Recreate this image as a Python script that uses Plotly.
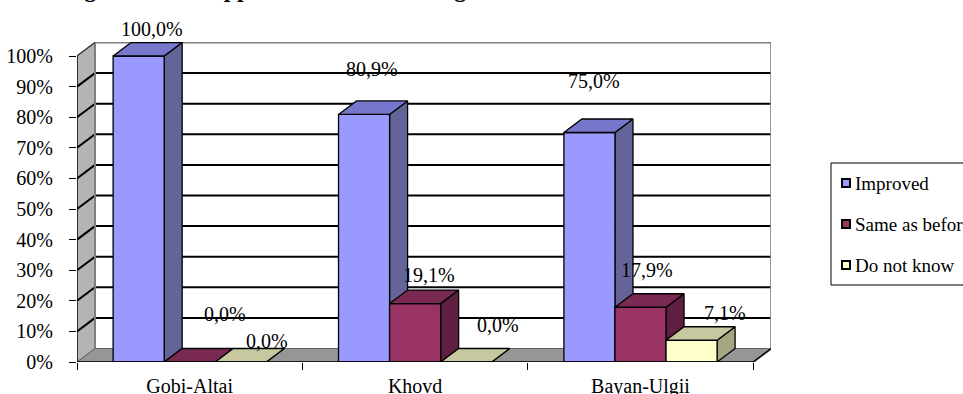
import plotly.graph_objects as go

# ---------------- data ----------------
categories = ["Gobi-Altai", "Khovd", "Bayan-Ulgii"]
series_names = ["Improved", "Same as before", "Do not know"]
improved = [100.0, 80.9, 75.0]
same_as_before = [0.0, 19.1, 17.9]
do_not_know = [0.0, 0.0, 7.1]
y_ticks = [0, 10, 20, 30, 40, 50, 60, 70, 80, 90, 100]
title_text = "Rating of citizen support of the local changes"

# ---------------- style ----------------
series_values = [improved, same_as_before, do_not_know]
front_colors = ["#9999FF", "#993366", "#FFFFCC"]
top_colors = ["#7676CC", "#7A2A52", "#C8C8A0"]
side_colors = ["#646499", "#5E1F40", "#A6A682"]
FONT = "Liberation Serif"

# pixel geometry of the plot area
L, R, T, B = 77, 192, 42, 32
W, H = 963, 394
pw, ph = W - L - R, H - T - B
px_per_cat = 225.4
px_per_pct = 3.06
depth_px_x, depth_px_y = 18, 13.5
DX = depth_px_x / px_per_cat
DY = depth_px_y / px_per_pct
xmax = pw / px_per_cat
ymax = ph / px_per_pct
bar_w = 0.2265
n_cat = len(categories)

# label offsets (pixels) from the bar's front-top centre
label_shift = [
    [(13, 27), (8, 45), (5, 52)],
    [(35, 48), (14, 29), (6, 37)],
    [(26, 21), (32, 37), (33, 27)],
]

fig = go.Figure()


def poly_trace(xs, ys, fill, line_color="black", lw=1.3):
    return go.Scatter(x=xs, y=ys, mode="lines", fill="toself", fillcolor=fill,
                      line=dict(color=line_color, width=lw), hoverinfo="skip",
                      showlegend=False)


# side wall (left)
fig.add_trace(poly_trace([0, 0, DX, DX, 0], [0, 100, 100 + DY, DY, 0], "#B4B4B4", "#606060", 1))
# floor
fig.add_trace(poly_trace([0, n_cat, n_cat + DX, DX, 0], [0, 0, DY, DY, 0], "#969696", "#606060", 1))

# back wall gridlines
gx, gy = [], []
for v in y_ticks[1:-1]:
    gx += [DX, n_cat + DX, None]
    gy += [v + DY, v + DY, None]
fig.add_trace(go.Scatter(x=gx, y=gy, mode="lines", line=dict(color="black", width=2),
                         hoverinfo="skip", showlegend=False))
# side wall diagonals
sx, sy = [], []
for v in y_ticks[1:-1]:
    sx += [0, DX, None]
    sy += [v, v + DY, None]
fig.add_trace(go.Scatter(x=sx, y=sy, mode="lines", line=dict(color="black", width=2),
                         hoverinfo="skip", showlegend=False))
# back wall border (gray)
fig.add_trace(go.Scatter(x=[DX, DX, n_cat + DX, n_cat + DX, n_cat],
                         y=[DY, 100 + DY, 100 + DY, DY, 0], mode="lines",
                         line=dict(color="#7F7F7F", width=2), hoverinfo="skip", showlegend=False))
fig.add_trace(go.Scatter(x=[0, DX], y=[100, 100 + DY], mode="lines",
                         line=dict(color="#404040", width=1.5), hoverinfo="skip", showlegend=False))

# bars (drawn left to right so later bars cover earlier side faces)
for s, vals in enumerate(series_values):
    fx, fy, tx, ty, sx_, sy_ = [], [], [], [], [], []
    for i, v in enumerate(vals):
        x0 = i + 0.5 + (s - 1) * bar_w - bar_w / 2
        x1 = x0 + bar_w
        sx_ += [x1, x1 + DX, x1 + DX, x1, x1, None]
        sy_ += [0, DY, v + DY, v, 0, None]
        fx += [x0, x1, x1, x0, x0, None]
        fy += [0, 0, v, v, 0, None]
        tx += [x0, x1, x1 + DX, x0 + DX, x0, None]
        ty += [v, v, v + DY, v + DY, v, None]
    fig.add_trace(poly_trace(sx_, sy_, side_colors[s]))
    fig.add_trace(poly_trace(fx, fy, front_colors[s]))
    fig.add_trace(poly_trace(tx, ty, top_colors[s]))

# front axis lines
fig.add_trace(go.Scatter(x=[0, 0, n_cat, n_cat + DX], y=[100, 0, 0, DY], mode="lines",
                         line=dict(color="black", width=1.3), hoverinfo="skip", showlegend=False))

# data labels
for s, vals in enumerate(series_values):
    for i, v in enumerate(vals):
        xc = i + 0.5 + (s - 1) * bar_w
        xs, ys = label_shift[s][i]
        fig.add_annotation(x=xc, y=v, xref="x", yref="y", showarrow=False,
                           text=f"{v:.1f}".replace(".", ",") + "%",
                           xshift=xs, yshift=ys, xanchor="center", yanchor="middle",
                           font=dict(family=FONT, size=20, color="black"))

# title (mostly cut off at the top)
fig.add_annotation(x=(25 - L) / pw, y=(H - B + 11) / ph, xref="paper", yref="paper",
                   showarrow=False, text="<b>" + title_text + "</b>",
                   xanchor="left", yanchor="middle",
                   font=dict(family=FONT, size=24, color="black"))


def px2paper(px, py):
    return (px - L) / pw, (H - B - py) / ph


# legend (manual)
lx0, ly0 = px2paper(831, 285)
lx1, ly1 = px2paper(990, 163)
fig.add_shape(type="rect", xref="paper", yref="paper", x0=lx0, y0=ly0, x1=lx1, y1=ly1,
              line=dict(color="black", width=1), fillcolor="white", layer="above")
for k, name in enumerate(series_names):
    cy = 183 + 41 * k
    mx0, my0 = px2paper(842, cy + 4)
    mx1, my1 = px2paper(850, cy - 4)
    fig.add_shape(type="rect", xref="paper", yref="paper", x0=mx0, y0=my0, x1=mx1, y1=my1,
                  line=dict(color="black", width=2), fillcolor=front_colors[k], layer="above")
    tx_, ty_ = px2paper(853, cy)
    fig.add_annotation(x=tx_, y=ty_, xref="paper", yref="paper", showarrow=False,
                       text=name, xanchor="left", yanchor="middle",
                       font=dict(family=FONT, size=19, color="black"))

fig.update_layout(
    width=W, height=H,
    margin=dict(l=L, r=R, t=T, b=B, autoexpand=False),
    paper_bgcolor="white", plot_bgcolor="white",
    showlegend=False,
    font=dict(family=FONT, size=20, color="black"),
    xaxis=dict(range=[0, xmax], showgrid=False, zeroline=False, showline=False,
               tickmode="array", tickvals=[i + 0.5 for i in range(n_cat)],
               ticktext=categories, ticks="", ticklabelstandoff=10,
               minor=dict(tickmode="array", tickvals=list(range(n_cat + 1)), ticks="outside",
                          ticklen=7, tickcolor="black", tickwidth=1, showgrid=False),
               tickfont=dict(family=FONT, size=20, color="black"), fixedrange=True),
    yaxis=dict(range=[0, ymax], showgrid=False, zeroline=False, showline=False,
               tickmode="array", tickvals=y_ticks, ticktext=[f"{v}%" for v in y_ticks],
               ticks="outside", ticklen=7, tickcolor="black", tickwidth=1,
               ticklabelstandoff=12,
               tickfont=dict(family=FONT, size=20, color="black"), fixedrange=True),
)

fig.write_html("out.html")
